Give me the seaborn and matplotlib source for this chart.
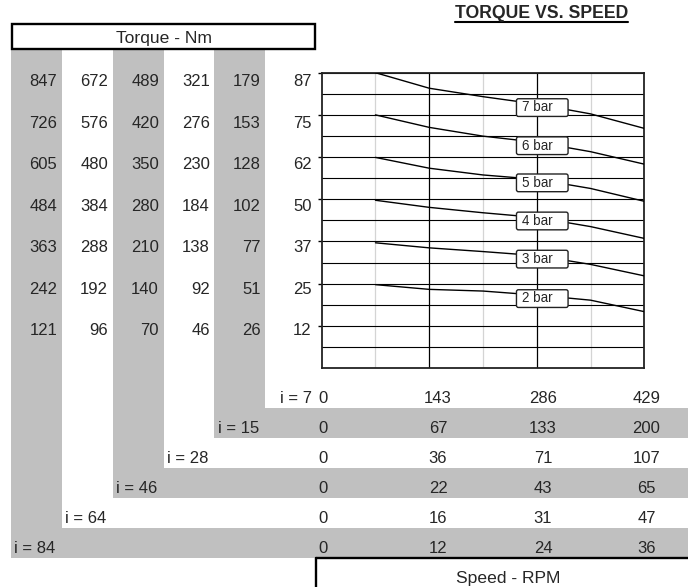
import numpy as np
import pandas as pd
import matplotlib.pyplot as plt
import seaborn as sns
from matplotlib.patches import Rectangle, FancyBboxPatch
from matplotlib.transforms import ScaledTranslation

sns.set_style("white")
plt.rcParams['font.family'] = ['Liberation Sans', 'DejaVu Sans']

# ---- data ----
pressures = ['7 bar', '6 bar', '5 bar', '4 bar', '3 bar', '2 bar']
curve_speed = [71.5, 143, 214.5, 286, 357.5, 429]   # rpm for i = 7
torque_7bar = [87.5, 82.9, 80.4, 78.2, 75.3, 71.0]
torque_6bar = [75.0, 71.3, 68.7, 66.9, 64.1, 60.4]
torque_5bar = [62.4, 59.2, 57.2, 55.9, 53.2, 49.4]
torque_4bar = [49.7, 47.6, 46.0, 44.6, 41.9, 38.4]
torque_3bar = [37.1, 35.6, 34.5, 33.3, 30.7, 27.3]
torque_2bar = [24.7, 23.3, 22.8, 21.6, 20.1, 16.7]
curves = [torque_7bar, torque_6bar, torque_5bar, torque_4bar, torque_3bar, torque_2bar]

# torque table (columns: i = 84, 64, 46, 28, 15, 7)
torque_rows = [
    [847, 672, 489, 321, 179, 87],
    [726, 576, 420, 276, 153, 75],
    [605, 480, 350, 230, 128, 62],
    [484, 384, 280, 184, 102, 50],
    [363, 288, 210, 138, 77, 37],
    [242, 192, 140, 92, 51, 25],
    [121, 96, 70, 46, 26, 12],
]
ratios = [7, 15, 28, 46, 64, 84]
speed_rows = [
    [0, 143, 286, 429],
    [0, 67, 133, 200],
    [0, 36, 71, 107],
    [0, 22, 43, 65],
    [0, 16, 31, 47],
    [0, 12, 24, 36],
]

df = pd.DataFrame({
    'speed': curve_speed * len(pressures),
    'torque': sum(curves, []),
    'pressure': np.repeat(pressures, len(curve_speed)),
})

# ---- figure in pixel layout ----
W, H = 688, 587
GRAY = '#c0c0c0'
FS = 12
fig = plt.figure(figsize=(W / 100, H / 100), dpi=100)

def fig_rect(x0, y0, x1, y1):
    return [x0 / W, 1 - y1 / H, (x1 - x0) / W, (y1 - y0) / H]

bg = fig.add_axes([0, 0, 1, 1])
bg.set_xlim(0, W)
bg.set_ylim(H, 0)
bg.axis('off')

# chart
ax = fig.add_axes(fig_rect(321.7, 72.7, 644.3, 368))
sns.lineplot(data=df, x='speed', y='torque', hue='pressure', units='pressure',
             estimator=None, sort=False, palette=['black'] * 6, legend=False,
             lw=1, ax=ax, zorder=3)
ax.set_xlim(0, 429)
ax.set_ylim(0, 87.5)
ax.set_xticks([143, 286])
ax.set_xticks([71.5, 214.5, 357.5], minor=True)
ax.set_yticks(np.arange(12.5, 87.6, 12.5))
ax.set_yticks(np.arange(6.25, 87.5, 12.5), minor=True)
ax.set_axisbelow(True)
ax.grid(which='major', axis='x', color='black', lw=0.9)
ax.grid(which='minor', axis='x', color='#d4d4d4', lw=0.9)
ax.grid(which='both', axis='y', color='black', lw=0.8)
ax.tick_params(labelleft=False, labelbottom=False)
ax.tick_params(axis='x', which='both', length=0)
ax.tick_params(axis='y', which='major', left=True, direction='out', length=3, width=1, color='black')
ax.tick_params(axis='y', which='minor', length=0)
ax.set_xlabel('')
ax.set_ylabel('')
for s in ax.spines.values():
    s.set_color('#222222')
    s.set_linewidth(1.3)

# series labels at the 286 rpm point
for name, vals in zip(pressures, curves):
    tr = fig.dpi_scale_trans + ScaledTranslation(curve_speed[3], vals[3], ax.transData)
    cx, cy = 0.055, -0.035
    box = FancyBboxPatch((cx - 0.258, cy - 0.0885), 0.516, 0.177,
                         boxstyle='round,pad=0,rounding_size=0.02',
                         fc='white', ec='#222222', lw=1, transform=tr, zorder=5)
    ax.add_patch(box)
    ax.text(cx - 0.258 + 0.06, cy - 0.038, name, transform=tr, fontsize=9.75,
            ha='left', va='baseline', zorder=6)

# ---- tables ----
col_edges = np.linspace(11, 316, 7)

# gray columns and bands
bg.add_patch(Rectangle((col_edges[0], 48), col_edges[1] - col_edges[0], 557.7 - 48, fc=GRAY, ec='none'))
bg.add_patch(Rectangle((col_edges[2], 48), col_edges[3] - col_edges[2], 497.7 - 48, fc=GRAY, ec='none'))
bg.add_patch(Rectangle((col_edges[4], 48), col_edges[5] - col_edges[4], 407.7 - 48, fc=GRAY, ec='none'))
bg.add_patch(Rectangle((col_edges[4], 407.7), W - col_edges[4], 30, fc=GRAY, ec='none'))
bg.add_patch(Rectangle((col_edges[2], 467.7), W - col_edges[2], 30, fc=GRAY, ec='none'))
bg.add_patch(Rectangle((col_edges[0], 527.7), W - col_edges[0], 30, fc=GRAY, ec='none'))

# torque header box
bg.add_patch(Rectangle((12.2, 24), 303, 24.8, fc='white', ec='black', lw=1.7, zorder=3))
bg.text(164, 42.7, 'Torque - Nm', fontsize=12.6, ha='center', va='baseline', zorder=4)

for r, row in enumerate(torque_rows):
    yb = 86 + 41.55 * r
    for c, v in enumerate(row):
        bg.text(col_edges[c + 1] - 4.5, yb, str(v), fontsize=FS, ha='right', va='baseline')

# speed table
speed_x = [318, 438, 543, 646.5]
for r, (ratio, row) in enumerate(zip(ratios, speed_rows)):
    yb = 403.3 + 29.9 * r
    if r == 0:
        bg.text(312, yb, f'i = {ratio}', fontsize=FS, ha='right', va='baseline')
    else:
        bg.text(col_edges[5 - r] + 3.3, yb, f'i = {ratio}', fontsize=FS, ha='left', va='baseline')
    for k, v in enumerate(row):
        bg.text(speed_x[k], yb, str(v), fontsize=FS, ha='left' if k == 0 else 'center', va='baseline')

# speed footer box
bg.plot([316, 316], [558.3, H + 5], color='black', lw=1.7)
bg.plot([316, W + 5], [558.3, 558.3], color='black', lw=1.7)
bg.text(508.3, 583.3, 'Speed - RPM', fontsize=12.6, ha='center', va='baseline')

# title
bg.text(455, 18.3, 'TORQUE VS. SPEED', fontsize=12.7, fontweight='bold', ha='left', va='baseline')
bg.plot([455, 627.7], [21.7, 21.7], color='black', lw=1.5)

fig.savefig('out.png', dpi=100)
